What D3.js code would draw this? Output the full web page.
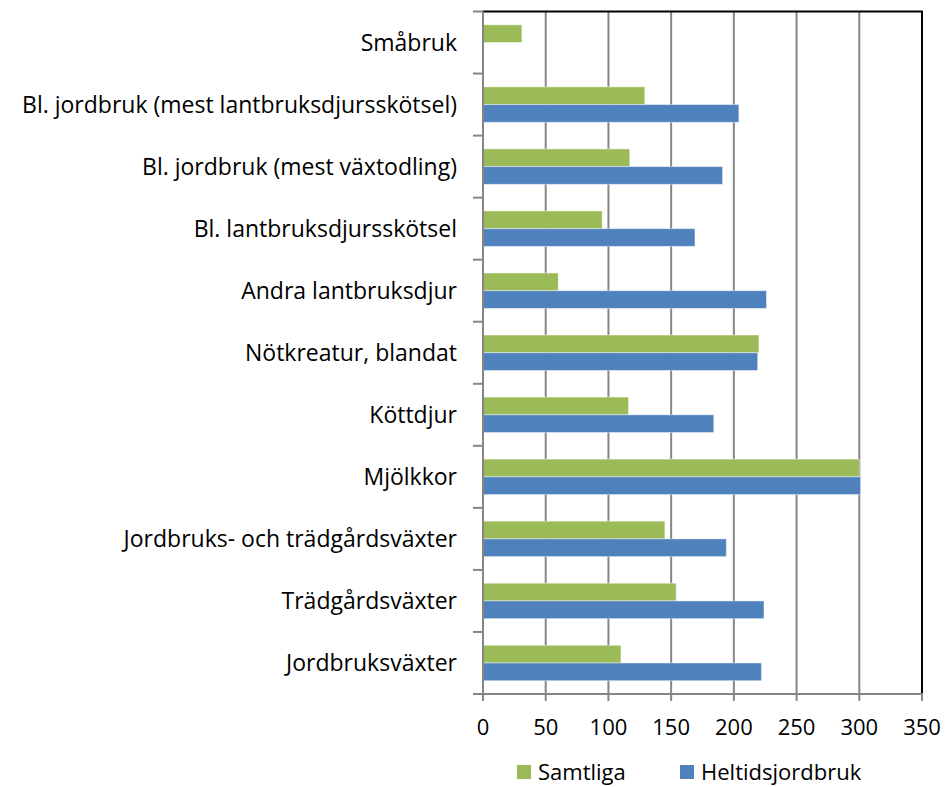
<!DOCTYPE html>
<html>
<head>
<meta charset="utf-8">
<script src="https://cdn.jsdelivr.net/npm/d3@7"></script>
<style>
  body { margin: 0; background: #fff; }
  text { font-family: 'Open Sans', sans-serif; fill: #000; }
</style>
</head>
<body>
<svg id="chart" width="951" height="787"></svg>
<script>
// categories top to bottom
const categories = [
  'Småbruk',
  'Bl. jordbruk (mest lantbruksdjursskötsel)',
  'Bl. jordbruk (mest växtodling)',
  'Bl. lantbruksdjursskötsel',
  'Andra lantbruksdjur',
  'Nötkreatur, blandat',
  'Köttdjur',
  'Mjölkkor',
  'Jordbruks- och trädgårdsväxter',
  'Trädgårdsväxter',
  'Jordbruksväxter'
]
const seriesNames = ['Samtliga', 'Heltidsjordbruk']
const samtliga = [31, 129, 117, 95, 60, 220, 116, 300, 145, 154, 110]
const heltid = [null, 204, 191, 169, 226, 219, 184, 301, 194, 224, 222]
const xTicks = [0, 50, 100, 150, 200, 250, 300, 350]
const colors = ['#9BBB59', '#4F81BD']

const svg = d3.select('#chart')
const plotLeft = 483
const plotRight = 922
const plotTop = 11.5
const plotBottom = 694

const x = d3.scaleLinear().domain([0, 350]).range([plotLeft, plotRight])
const y = d3.scaleBand().domain(categories).range([plotTop, plotBottom])
const sub = d3.scaleBand().domain(seriesNames).range([0, y.bandwidth()])
  .paddingInner(0).paddingOuter(0.75)

// gridlines
svg.append('g')
  .selectAll('line')
  .data(xTicks.filter(d => d > 0 && d < 350))
  .enter().append('line')
  .attr('x1', d => x(d)).attr('x2', d => x(d))
  .attr('y1', plotTop).attr('y2', plotBottom)
  .style('stroke', '#868686')
  .style('stroke-width', 2)

// bars
const rows = categories.map((c, i) => ({ cat: c, vals: [samtliga[i], heltid[i]] }))
const groups = svg.append('g')
  .selectAll('g')
  .data(rows)
  .enter().append('g')
  .attr('transform', d => 'translate(0,' + y(d.cat) + ')')

groups.selectAll('rect')
  .data(d => d.vals.map((v, j) => ({ key: seriesNames[j], val: v, j: j })).filter(e => e.val != null))
  .enter().append('rect')
  .attr('x', x(0))
  .attr('y', d => sub(d.key))
  .attr('width', d => x(d.val) - x(0))
  .attr('height', sub.bandwidth())
  .style('fill', d => colors[d.j])
  .style('stroke', 'rgba(255,255,255,0.45)')
  .style('stroke-width', 1)

// plot border top/right
svg.append('line')
  .attr('x1', plotLeft).attr('x2', plotRight + 1).attr('y1', plotTop).attr('y2', plotTop)
  .style('stroke', '#000').style('stroke-width', 2)
svg.append('line')
  .attr('x1', plotRight).attr('x2', plotRight).attr('y1', plotTop).attr('y2', plotBottom)
  .style('stroke', '#000').style('stroke-width', 2)

// y axis
const yAxis = svg.append('g')
svg.append('line')
  .attr('x1', plotLeft).attr('x2', plotLeft).attr('y1', plotTop).attr('y2', plotBottom + 1)
  .style('stroke', '#868686').style('stroke-width', 2)
yAxis.selectAll('line')
  .data(categories.concat(['__end']))
  .enter().append('line')
  .attr('x1', plotLeft - 10).attr('x2', plotLeft)
  .attr('y1', (d, i) => plotTop + i * y.step())
  .attr('y2', (d, i) => plotTop + i * y.step())
  .style('stroke', '#868686').style('stroke-width', 2)
yAxis.selectAll('text')
  .data(categories)
  .enter().append('text')
  .attr('x', plotLeft - 26)
  .attr('y', d => y(d) + y.bandwidth() / 2)
  .attr('dy', '0.35em')
  .attr('text-anchor', 'end')
  .style('font-size', '23px')
  .text(d => d)

// x axis
const xAxis = svg.append('g')
xAxis.append('line')
  .attr('x1', plotLeft - 10).attr('x2', plotRight + 1).attr('y1', plotBottom).attr('y2', plotBottom)
  .style('stroke', '#868686').style('stroke-width', 2)
xAxis.selectAll('line.tick')
  .data(xTicks)
  .enter().append('line')
  .attr('class', 'tick')
  .attr('x1', d => x(d)).attr('x2', d => x(d))
  .attr('y1', plotBottom).attr('y2', plotBottom + 7)
  .style('stroke', '#868686').style('stroke-width', 2)
xAxis.selectAll('text')
  .data(xTicks)
  .enter().append('text')
  .attr('x', d => x(d))
  .attr('y', 727)
  .attr('dy', '0.35em')
  .attr('text-anchor', 'middle')
  .style('font-size', '22px')
  .text(d => d)

// legend
const legendX = [517, 680]
const legend = svg.append('g')
  .selectAll('g')
  .data(seriesNames)
  .enter().append('g')
  .attr('transform', (d, i) => 'translate(' + legendX[i] + ',772)')
legend.append('rect')
  .attr('x', 0).attr('y', -7)
  .attr('width', 14).attr('height', 14)
  .style('fill', (d, i) => colors[i])
legend.append('text')
  .attr('x', 21).attr('y', 0)
  .attr('dy', '0.35em')
  .style('font-size', '22px')
  .text(d => d)
</script>
</body>
</html>
